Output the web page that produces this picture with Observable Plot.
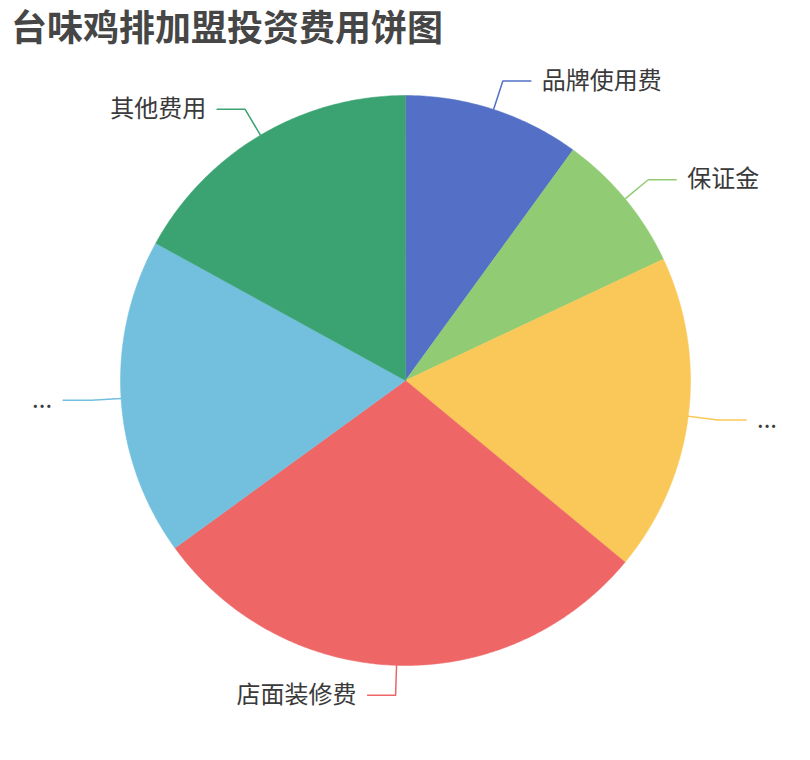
<!DOCTYPE html>
<html>
<head>
<meta charset="utf-8">
<script src="https://cdn.jsdelivr.net/npm/d3@7"></script>
<script src="https://cdn.jsdelivr.net/npm/@observablehq/plot@0.6"></script>
<style>
  html, body { margin: 0; padding: 0; background: #fff; }
  #title { font-family: "Noto Sans CJK SC", sans-serif; font-weight: bold; font-size: 36px; line-height: 50px; height: 50px; color: #464646; padding-left: 11px; white-space: nowrap; }
  #chart svg { display: block; }
</style>
</head>
<body>
<div id="title">台味鸡排加盟投资费用饼图</div>
<div id="chart"></div>
<script>
const categories = ["品牌使用费", "保证金", "...", "店面装修费", "...", "其他费用"];
const values = [10, 8, 18, 29, 18, 17];
const colors = ["#5470c6", "#91cc75", "#fac858", "#ee6666", "#73c0de", "#3ba272"];

const W = 810, H = 710;
const cx = 405, cy = 330, R = 285;      // pixel layout of the pie
const len1 = 30 / R, len2 = 28;         // label guide line lengths

const total = d3.sum(values);
const slices = [];
const guides = [];
const labels = [];
let acc = 0;
values.forEach((v, i) => {
  const a0 = acc / total * 2 * Math.PI;
  acc += v;
  const a1 = acc / total * 2 * Math.PI;
  slices.push({i, x: 0, y: 0, color: colors[i]});
  const n = Math.max(2, Math.ceil((a1 - a0) / 0.01));
  for (let k = 0; k <= n; k++) {
    const a = a0 + (a1 - a0) * k / n;
    slices.push({i, x: Math.sin(a), y: -Math.cos(a), color: colors[i]});
  }
  const am = (a0 + a1) / 2;
  const dx = Math.sin(am), dy = -Math.cos(am);
  const right = dx >= 0;
  const p0 = [dx, dy];
  const p1 = [dx * (1 + len1), dy * (1 + len1)];
  const p2 = [p1[0] + (right ? 1 : -1) * len2 / R, p1[1]];
  [p0, p1, p2].forEach(p => guides.push({i, x: p[0], y: p[1], color: colors[i]}));
  labels.push({name: categories[i], x: p2[0], y: p2[1], right});
});

const plot = Plot.plot({
  width: W,
  height: H,
  margin: 0,
  x: {domain: [-cx / R, (W - cx) / R], range: [0, W], axis: null},
  y: {domain: [-cy / R, (H - cy) / R], range: [0, H], axis: null},
  style: {fontFamily: "'Noto Sans CJK SC', sans-serif", background: "#fff"},
  marks: [
    Plot.line(slices, {x: "x", y: "y", z: "i", fill: "color", stroke: "color", strokeWidth: 0.5, curve: "linear-closed"}),
    Plot.line(guides, {x: "x", y: "y", z: "i", stroke: "color", strokeWidth: 1.5, curve: "linear"}),
    Plot.text(labels.filter(d => d.right), {x: "x", y: "y", text: "name", textAnchor: "start", dx: 11, fontSize: 24, fill: "#3a3a3a", lineAnchor: "middle"}),
    Plot.text(labels.filter(d => !d.right), {x: "x", y: "y", text: "name", textAnchor: "end", dx: -11, fontSize: 24, fill: "#3a3a3a", lineAnchor: "middle"})
  ]
});
document.getElementById("chart").appendChild(plot);
</script>
</body>
</html>
